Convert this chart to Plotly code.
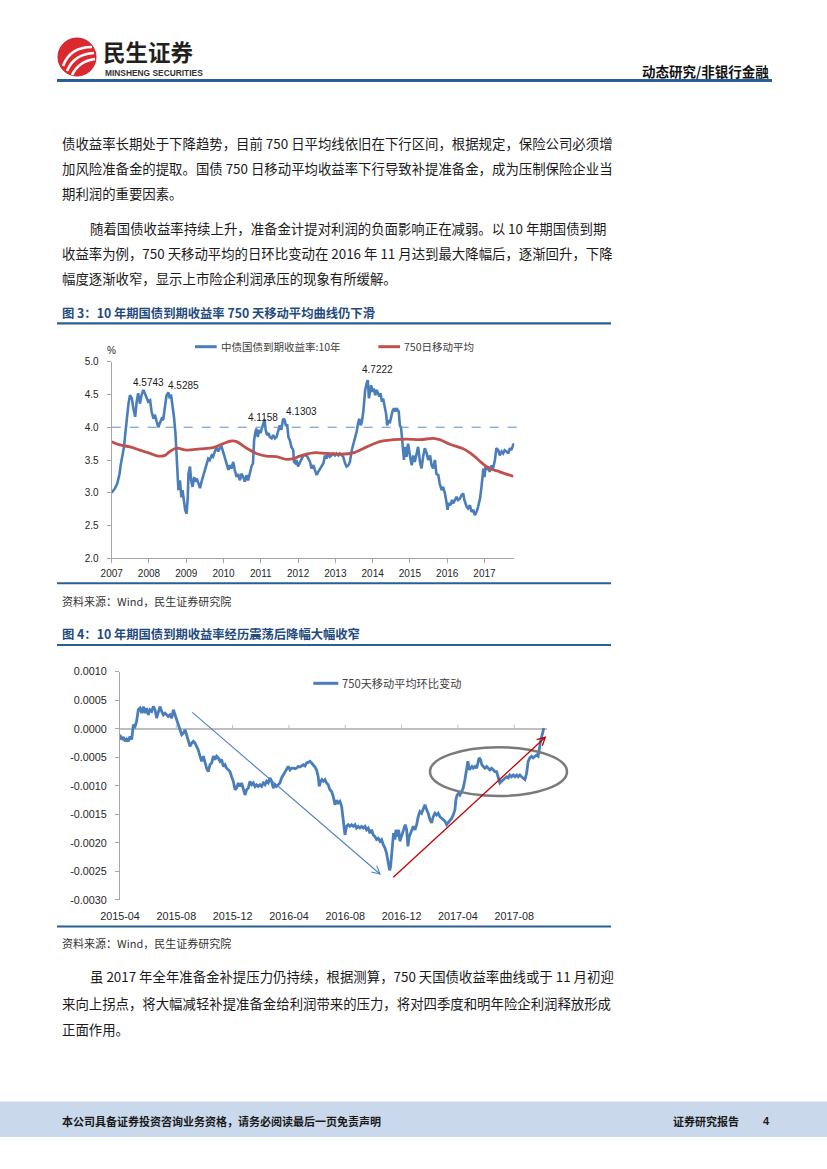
import math
import plotly.graph_objects as go

# ---------------- data: chart 3 (10Y CGB yield, %) ----------------
yield_year = [
    2007.00, 2007.09, 2007.15, 2007.21, 2007.24, 2007.29, 2007.33, 2007.37, 2007.40, 2007.45,
    2007.49, 2007.54, 2007.58, 2007.63, 2007.67, 2007.71, 2007.76, 2007.80, 2007.85, 2007.89,
    2007.94, 2007.98, 2008.03, 2008.07, 2008.12, 2008.16, 2008.21, 2008.25, 2008.29, 2008.34,
    2008.38, 2008.43, 2008.47, 2008.52, 2008.56, 2008.59, 2008.63, 2008.67, 2008.71, 2008.74,
    2008.77, 2008.79, 2008.83, 2008.87, 2008.90, 2008.94, 2008.97, 2009.01, 2009.04, 2009.06,
    2009.10, 2009.13, 2009.17, 2009.21, 2009.24, 2009.28, 2009.32, 2009.37, 2009.41, 2009.46,
    2009.50, 2009.54, 2009.59, 2009.63, 2009.68, 2009.72, 2009.77, 2009.81, 2009.86, 2009.90,
    2009.95, 2009.99, 2010.04, 2010.08, 2010.13, 2010.17, 2010.21, 2010.26, 2010.30, 2010.35,
    2010.39, 2010.44, 2010.48, 2010.53, 2010.57, 2010.62, 2010.66, 2010.71, 2010.75, 2010.79,
    2010.82, 2010.85, 2010.88, 2010.92, 2010.96, 2010.99, 2011.03, 2011.06, 2011.10, 2011.13,
    2011.17, 2011.21, 2011.24, 2011.29, 2011.33, 2011.38, 2011.42, 2011.46, 2011.51, 2011.55,
    2011.60, 2011.64, 2011.67, 2011.71, 2011.74, 2011.78, 2011.82, 2011.87, 2011.89, 2011.93,
    2011.96, 2012.00,
    2012.14, 2012.23, 2012.32, 2012.36, 2012.41, 2012.45, 2012.50, 2012.54, 2012.59, 2012.63,
    2012.68, 2012.72, 2012.76, 2012.81, 2012.85, 2012.90, 2012.94, 2012.99, 2013.03, 2013.08,
    2013.12, 2013.17, 2013.21, 2013.26, 2013.30, 2013.35, 2013.39, 2013.44, 2013.48, 2013.52,
    2013.57, 2013.61, 2013.64, 2013.68, 2013.71, 2013.75, 2013.77, 2013.80, 2013.84, 2013.87,
    2013.90, 2013.93, 2013.96, 2014.00, 2014.03, 2014.07, 2014.11, 2014.14, 2014.18, 2014.21,
    2014.25, 2014.28, 2014.32, 2014.36, 2014.39, 2014.43, 2014.46, 2014.50, 2014.53, 2014.57,
    2014.61, 2014.64, 2014.68, 2014.70, 2014.73, 2014.76, 2014.78, 2014.81, 2014.84, 2014.87,
    2014.91, 2014.95, 2014.98, 2015.02, 2015.05, 2015.09, 2015.13, 2015.18, 2015.22, 2015.27,
    2015.31, 2015.36, 2015.40, 2015.45, 2015.49, 2015.54, 2015.58, 2015.62, 2015.67, 2015.71,
    2015.76, 2015.80, 2015.85, 2015.89, 2015.94, 2015.98, 2016.01, 2016.04, 2016.09, 2016.13,
    2016.16, 2016.21, 2016.25, 2016.29, 2016.34, 2016.38, 2016.43, 2016.46, 2016.49, 2016.52,
    2016.56, 2016.61, 2016.65, 2016.70, 2016.74, 2016.79, 2016.83, 2016.88, 2016.92, 2016.95,
    2016.97, 2017.00, 2017.03, 2017.05, 2017.10, 2017.14, 2017.19, 2017.23, 2017.28, 2017.32,
    2017.37, 2017.41, 2017.46, 2017.50, 2017.54, 2017.59, 2017.64, 2017.68, 2017.72, 2017.77,
    2017.80,
]
yield_10y = [
    3.00, 3.07, 3.14, 3.29, 3.42, 3.57, 3.70, 3.93, 4.11, 4.36,
    4.49, 4.44, 4.29, 4.16, 4.39, 4.52, 4.36, 4.49, 4.57, 4.52,
    4.44, 4.39, 4.41, 4.24, 4.13, 4.19, 4.08, 4.00, 4.06, 4.13,
    4.11, 4.29, 4.48, 4.53, 4.44, 4.50, 4.36, 4.16, 3.91, 3.60,
    3.19, 3.04, 3.19, 2.93, 3.04, 2.88, 2.74, 2.68, 2.93, 3.29,
    3.40, 3.19, 3.09, 3.24, 3.17, 3.22, 3.14, 3.07, 3.17, 3.27,
    3.35, 3.45, 3.52, 3.50, 3.57, 3.55, 3.65, 3.70, 3.63, 3.68,
    3.70, 3.63, 3.55, 3.45, 3.35, 3.42, 3.37, 3.47, 3.35, 3.24,
    3.29, 3.19, 3.29, 3.24, 3.17, 3.27, 3.19, 3.32, 3.40, 3.45,
    3.80, 3.91, 3.98, 3.85, 3.96, 3.91, 3.98, 4.06, 4.12, 3.96,
    3.88, 3.91, 3.85, 3.83, 3.88, 3.83, 3.85, 3.93, 4.03, 3.96,
    4.13, 4.11, 4.03, 4.03, 3.85, 3.80, 3.70, 3.65, 3.47, 3.45,
    3.50, 3.40,
    3.57, 3.57, 3.47, 3.37, 3.42, 3.35, 3.27, 3.32, 3.37, 3.42,
    3.45, 3.57, 3.52, 3.60, 3.55, 3.57, 3.60, 3.57, 3.60, 3.57,
    3.60, 3.57, 3.55, 3.45, 3.40, 3.42, 3.47, 3.65, 3.73, 3.80,
    3.93, 4.06, 4.13, 4.03, 4.08, 4.24, 4.41, 4.57, 4.67, 4.72,
    4.44, 4.57, 4.64, 4.54, 4.59, 4.49, 4.57, 4.52, 4.47, 4.52,
    4.39, 4.44, 4.31, 4.21, 4.03, 4.11, 4.06, 4.19, 4.24, 4.29,
    4.24, 4.29, 4.26, 4.24, 4.03, 4.00, 3.88, 3.65, 3.50, 3.70,
    3.55, 3.75, 3.60, 3.50, 3.42, 3.57, 3.47, 3.60, 3.70, 3.47,
    3.37, 3.57, 3.68, 3.60, 3.50, 3.57, 3.42, 3.37, 3.50, 3.29,
    3.27, 3.14, 3.04, 3.09, 2.99, 2.86, 2.74, 2.84, 2.81, 2.89,
    2.84, 2.89, 2.94, 2.89, 2.91, 2.96, 2.99, 2.89, 2.84, 2.79,
    2.76, 2.81, 2.71, 2.74, 2.66, 2.71, 2.79, 2.91, 3.09, 3.29,
    3.37, 3.24, 3.42, 3.35, 3.40, 3.32, 3.42, 3.37, 3.50, 3.68,
    3.65, 3.57, 3.63, 3.60, 3.65, 3.63, 3.60, 3.68, 3.65, 3.73,
    3.75,
]
ma_year = [
    2007.00, 2007.22, 2007.49, 2007.76, 2008.03, 2008.25, 2008.43, 2008.56, 2008.74, 2009.01,
    2009.37, 2009.72, 2009.99, 2010.21, 2010.35, 2010.62, 2010.88, 2011.15, 2011.42, 2011.69,
    2011.87, 2012.04, 2012.41, 2012.76, 2013.12, 2013.48, 2013.84, 2014.19, 2014.55, 2014.91,
    2015.27, 2015.62, 2015.80, 2016.07, 2016.43, 2016.70, 2016.92, 2017.14, 2017.41, 2017.77,
]
ma_750 = [
    3.78, 3.73, 3.70, 3.65, 3.60, 3.56, 3.57, 3.63, 3.68, 3.65,
    3.67, 3.69, 3.75, 3.79, 3.78, 3.68, 3.60, 3.56, 3.55, 3.51,
    3.52, 3.56, 3.61, 3.60, 3.59, 3.61, 3.70, 3.78, 3.81, 3.82,
    3.81, 3.83, 3.81, 3.74, 3.67, 3.57, 3.46, 3.37, 3.32, 3.25,
]
year_ticks = [2007, 2008, 2009, 2010, 2011, 2012, 2013, 2014, 2015, 2016, 2017]
year_labels = ["2007", "2008", "2009", "2010", "2011", "2012", "2013", "2014", "2015", "2016", "2017"]
peak_labels = ["4.5743", "4.5285", "4.1158", "4.1303", "4.7222"]

# ---------------- data: chart 4 (750-day MA daily change) ----------------
# x: months elapsed since 2015-04
chg_month = [
    0.00, 0.12, 0.24, 0.36, 0.47, 0.59, 0.71, 0.83, 0.95, 1.07,
    1.18, 1.30, 1.42, 1.54, 1.66, 1.78, 1.89, 2.01, 2.13, 2.25,
    2.37, 2.49, 2.60, 2.72, 2.84, 2.96, 3.08, 3.20, 3.31, 3.43,
    3.55, 3.67, 3.79, 3.91, 4.02, 4.14, 4.26, 4.38, 4.50, 4.62,
    4.73, 4.85, 4.97, 5.09, 5.21, 5.33, 5.44, 5.56, 5.68, 5.80,
    5.92, 6.04, 6.15, 6.27, 6.39, 6.51, 6.63, 6.75, 6.86, 6.98,
    7.10, 7.22, 7.34, 7.46, 7.57, 7.69, 7.81, 7.93, 8.05, 8.17,
    8.28, 8.40, 8.52, 8.64, 8.76, 8.88, 8.99, 9.11, 9.23, 9.35,
    9.47, 9.59, 9.70, 9.82, 9.94, 10.06, 10.18, 10.30, 10.41, 10.53,
    10.65, 10.77, 10.89, 11.01, 11.12, 11.24, 11.36, 11.48, 11.60, 11.72,
    11.83, 11.95, 12.07, 12.19, 12.31, 12.43, 12.54, 12.66, 12.78, 12.90,
    13.02, 13.14, 13.25, 13.37, 13.49, 13.61, 13.73, 13.85, 13.96, 14.08,
    14.15, 14.25, 14.34, 14.44, 14.56, 14.67, 14.79, 14.91,
    15.03, 15.15, 15.27, 15.38, 15.50, 15.62, 15.74, 15.86, 15.98, 16.09,
    16.21, 16.33, 16.45, 16.57, 16.69, 16.80, 16.92, 17.04, 17.16, 17.28,
    17.40, 17.51, 17.63, 17.75, 17.87, 17.99, 18.11, 18.22, 18.34, 18.46,
    18.58, 18.70, 18.82, 18.93, 19.01, 19.08, 19.15, 19.22, 19.29, 19.36,
    19.43, 19.53, 19.60, 19.69, 19.79, 19.88, 19.98, 20.07, 20.17, 20.26,
    20.36, 20.45, 20.54, 20.64, 20.73, 20.83, 20.95, 21.07, 21.18, 21.30,
    21.42, 21.54, 21.66, 21.78, 21.89, 22.01, 22.13, 22.25, 22.37, 22.49,
    22.60, 22.72, 22.84, 22.96, 23.08, 23.20, 23.31, 23.43, 23.55, 23.67,
    23.79, 23.86, 23.95, 24.05, 24.14, 24.26, 24.38, 24.50, 24.62, 24.71,
    24.81, 24.90, 25.00, 25.09, 25.21, 25.33, 25.44, 25.51, 25.61, 25.70,
    25.80, 25.92, 26.04, 26.15, 26.27, 26.39, 26.51, 26.63, 26.75, 26.86,
    26.98, 27.10, 27.22, 27.34, 27.46, 27.57, 27.69, 27.81, 27.93, 28.05,
    28.17, 28.28, 28.40, 28.52, 28.64, 28.76, 28.88, 28.99, 29.11, 29.23,
    29.35, 29.47, 29.59, 29.70, 29.77, 29.87, 29.96, 30.05, 30.10,
]
chg_750 = [
    -0.000105, -0.00019, -0.000146, -0.00022, -0.00018, -0.00022, -0.000134, -0.00019, 0.00007, 0.00004,
    0.000128, 0.000333, 0.000362, 0.000274, 0.00039, 0.000274, 0.000362, 0.000245, 0.000333, 0.000304,
    0.00039, 0.000333, 0.000187, 0.000304, 0.00039, 0.000304, 0.000245, 0.000274, 0.000245, 0.000216,
    0.000245, 0.000187, 0.000333, 0.000245, 0.000158, 0.00007, -0.000047, -0.000105, -0.000076, -0.0000175,
    -0.000105, -0.00019, -0.00031, -0.00025, -0.00022, -0.00025, -0.00031, -0.00037, -0.00048, -0.00057,
    -0.00048, -0.0006, -0.00069, -0.00075, -0.00063, -0.0006, -0.00048, -0.00054, -0.00048, -0.00051,
    -0.00057, -0.00054, -0.00066, -0.00063, -0.00069, -0.00072, -0.00075, -0.00084, -0.00092, -0.00107,
    -0.00104, -0.00095, -0.00101, -0.00095, -0.00104, -0.00116, -0.00107, -0.00104, -0.00092, -0.00098,
    -0.00095, -0.00101, -0.00098, -0.00101, -0.00098, -0.00101, -0.00095, -0.00098, -0.00092, -0.00095,
    -0.00086, -0.00092, -0.00104, -0.00098, -0.00101, -0.00098, -0.00095, -0.00086, -0.00081, -0.00075,
    -0.00069, -0.00066, -0.00072, -0.00069, -0.00069, -0.0007, -0.00069, -0.00066, -0.00067, -0.00065,
    -0.00063, -0.00065, -0.0006, -0.00059, -0.00057, -0.0006, -0.00063, -0.00067, -0.00072, -0.00084,
    -0.00101, -0.00092, -0.00089, -0.00092, -0.00089, -0.00095, -0.00098, -0.00107,
    -0.0011, -0.00119, -0.00133, -0.00125, -0.0013, -0.00127, -0.00136, -0.00165, -0.00186, -0.00171,
    -0.00168, -0.00171, -0.00168, -0.00171, -0.00168, -0.00174, -0.00171, -0.00174, -0.00171, -0.00174,
    -0.00171, -0.00177, -0.00174, -0.00183, -0.00177, -0.00186, -0.00189, -0.00194, -0.00192, -0.00197,
    -0.00194, -0.00203, -0.00209, -0.00218, -0.0023, -0.00244, -0.00248, -0.00241, -0.00224, -0.00206,
    -0.00183, -0.00194, -0.00177, -0.00189, -0.00177, -0.00197, -0.00189, -0.00183, -0.00171, -0.00168,
    -0.00177, -0.00206, -0.00189, -0.00183, -0.00177, -0.00171, -0.00177, -0.00168, -0.00154, -0.00145,
    -0.00148, -0.00139, -0.00133, -0.00142, -0.00148, -0.00159, -0.00165, -0.00154, -0.00148, -0.00151,
    -0.00148, -0.00154, -0.00157, -0.00159, -0.00162, -0.00168, -0.00165, -0.00162, -0.00157, -0.00151,
    -0.00142, -0.00124, -0.00116, -0.00113, -0.00116, -0.0011, -0.00104, -0.00089, -0.00066, -0.00057,
    -0.00072, -0.00069, -0.00066, -0.00069, -0.00066, -0.00069, -0.0006, -0.00051, -0.00054, -0.00063,
    -0.00066, -0.00069, -0.00066, -0.00069, -0.00072, -0.00069, -0.00072, -0.00075, -0.00075, -0.00086,
    -0.00095, -0.00092, -0.00089, -0.00086, -0.00084, -0.00086, -0.00081, -0.00084, -0.00081, -0.00084,
    -0.00081, -0.00084, -0.00081, -0.00084, -0.00086, -0.00089, -0.00078, -0.00057, -0.00051, -0.00048,
    -0.00051, -0.00048, -0.00046, -0.00048, -0.00034, -0.00022, -0.00013, -0.000047, 0.0000117,
]
month_ticks = [0, 4, 8, 12, 16, 20, 24, 28]
month_labels = ["2015-04", "2015-08", "2015-12", "2016-04", "2016-08", "2016-12", "2017-04", "2017-08"]
chg_ticks = [0.001, 0.0005, 0.0, -0.0005, -0.001, -0.0015, -0.002, -0.0025, -0.003]
chg_labels = ["0.0010", "0.0005", "0.0000", "-0.0005", "-0.0010", "-0.0015", "-0.0020", "-0.0025", "-0.0030"]

# ---------------- texts ----------------
para1 = [
    "债收益率长期处于下降趋势，目前 750 日平均线依旧在下行区间，根据规定，保险公司必须增",
    "加风险准备金的提取。国债 750 日移动平均收益率下行导致补提准备金，成为压制保险企业当",
    "期利润的重要因素。",
]
para2 = [
    "随着国债收益率持续上升，准备金计提对利润的负面影响正在减弱。以 10 年期国债到期",
    "收益率为例，750 天移动平均的日环比变动在 2016 年 11 月达到最大降幅后，逐渐回升，下降",
    "幅度逐渐收窄，显示上市险企利润承压的现象有所缓解。",
]
para3 = [
    "虽 2017 年全年准备金补提压力仍持续，根据测算，750 天国债收益率曲线或于 11 月初迎",
    "来向上拐点，将大幅减轻补提准备金给利润带来的压力，将对四季度和明年险企利润释放形成",
    "正面作用。",
]
title3 = "图 3：10 年期国债到期收益率 750 天移动平均曲线仍下滑"
title4 = "图 4：10 年期国债到期收益率经历震荡后降幅大幅收窄"
source_txt = "资料来源：Wind，民生证券研究院"
legend3 = ["中债国债到期收益率:10年", "750日移动平均"]
legend4 = "750天移动平均环比变动"

# ---------------- page helpers ----------------
W, H = 827, 1169
def X(px):
    return px / W
def Y(py):
    return 1 - py / H

CJK = "Noto Sans CJK SC"
NUM = "Liberation Sans"
BLUE = "#4A7EBB"
RED = "#C0504D"
RULE = "#2A5F96"
TITLE = "#1F4A7D"
AXIS = "#A6A6A6"

shapes = []
annotations = []

def text(px, py, s, size=13.6, color="#1a1a1a", anchor="left", family=CJK, bold=False):
    annotations.append(dict(
        x=X(px), y=Y(py), xref="paper", yref="paper", showarrow=False,
        text=("<b>%s</b>" % s) if bold else s, xanchor=anchor, yanchor="middle",
        font=dict(family=family, size=size, color=color)))

def hline(px0, px1, py, color, width):
    shapes.append(dict(type="line", xref="paper", yref="paper",
                       x0=X(px0), x1=X(px1), y0=Y(py), y1=Y(py),
                       line=dict(color=color, width=width)))

def arrow(x0, y0, x1, y1, color, width, head=9):
    shapes.append(dict(type="line", xref="paper", yref="paper",
                       x0=X(x0), y0=Y(y0), x1=X(x1), y1=Y(y1),
                       line=dict(color=color, width=width)))
    ang = math.atan2(y1 - y0, x1 - x0)
    pts = []
    for d in (math.radians(152), -math.radians(152)):
        pts.append((x1 + head * math.cos(ang + d), y1 + head * math.sin(ang + d)))
    path = "M %f %f L %f %f L %f %f" % (X(pts[0][0]), Y(pts[0][1]), X(x1), Y(y1),
                                        X(pts[1][0]), Y(pts[1][1]))
    shapes.append(dict(type="path", xref="paper", yref="paper", path=path,
                       line=dict(color=color, width=width)))

# ---------------- header ----------------
shapes.append(dict(type="circle", xref="paper", yref="paper",
                   x0=X(58), x1=X(96), y0=Y(76), y1=Y(38),
                   fillcolor="#DA2A2F", line=dict(color="#C81E25", width=1)))
for (a, b, c, d, e, f) in [(63, 66, 70, 47, 92, 47), (67, 71, 74, 54, 94, 53), (72, 75, 79, 61, 95, 59)]:
    shapes.append(dict(type="path", xref="paper", yref="paper",
                       path="M %f %f Q %f %f %f %f" % (X(a), Y(b), X(c), Y(d), X(e), Y(f)),
                       line=dict(color="white", width=2.6)))
text(101, 51.5, "民生证券", size=22.5, color="#231F20", bold=True)
text(103, 72.5, "MINSHENG SECURITIES", size=8.4, color="#333333", family=NUM, bold=True)
text(771, 71, "动态研究/非银行金融", size=13.5, color="#111111", anchor="right", bold=True)
hline(57, 772, 80.5, RULE, 3)

# ---------------- paragraphs ----------------
for i, s in enumerate(para1):
    text(60, 143.3 + 25 * i, s, size=13.4)
for i, s in enumerate(para2):
    text(88 if i == 0 else 60, 228.3 + 24.6 * i, s, size=13.4)

# ---------------- chart 3 frame ----------------
text(60, 313.3, title3, size=12.3, color=TITLE, bold=True)
hline(57, 611, 323.3, RULE, 2.2)
hline(57, 611, 583.3, RULE, 2.0)
text(60, 600.5, source_txt, size=11, color="#333333")
text(105, 350.5, "%", size=10, color="#262626", family=NUM)
# legend
hline(195, 216.7, 346.7, BLUE, 3)
text(218.5, 346.7, legend3[0], size=10.5, color="#404040")
hline(378.3, 400, 346.7, RED, 3)
text(401.7, 346.7, legend3[1], size=10.5, color="#404040")
# dashed 4.0 reference line
shapes.append(dict(type="line", xref="paper", yref="y", x0=X(111.7), x1=X(523), y0=4.0, y1=4.0,
                   line=dict(color="#5B8DC9", width=1, dash="dash")))
# peak labels
peak_pos = [(2008.0, 4.69), (2008.93, 4.63), (2011.05, 4.15), (2012.09, 4.24), (2014.12, 4.88)]
for lbl, (px_, py_) in zip(peak_labels, peak_pos):
    annotations.append(dict(x=px_, y=py_, xref="x", yref="y", text=lbl, showarrow=False,
                            font=dict(family=NUM, size=10, color="#1a1a1a")))

# ---------------- chart 4 frame ----------------
text(60, 634.3, title4, size=12.3, color=TITLE, bold=True)
hline(57, 611, 645, RULE, 2.2)
hline(57, 611, 926.5, RULE, 2.0)
text(60, 942.7, source_txt, size=11, color="#333333")
hline(313.3, 338.3, 683.3, BLUE, 3)
text(340, 683.3, legend4, size=11.2, color="#404040")
shapes.append(dict(type="circle", xref="paper", yref="paper",
                   x0=X(430), x1=X(567), y0=Y(796), y1=Y(747.3),
                   line=dict(color="#7A7A7A", width=2.5)))
arrow(192.3, 712.3, 380, 874, "#4F7FC0", 1.1)
arrow(393.3, 877.3, 545.3, 737.3, "#C00000", 1.3)

# ---------------- chart 4 axis geometry ----------------
y2_dom = [Y(900), Y(671.7)]
y2_rng = [-0.003, 0.001]
x2_dom = [X(120), X(546.6)]
x2_rng = [0, 30.3]
zero_paper = y2_dom[0] + (0 - y2_rng[0]) / (y2_rng[1] - y2_rng[0]) * (y2_dom[1] - y2_dom[0])
for t in month_ticks[1:]:
    xp = x2_dom[0] + (t - x2_rng[0]) / (x2_rng[1] - x2_rng[0]) * (x2_dom[1] - x2_dom[0])
    shapes.append(dict(type="line", xref="paper", yref="paper", x0=xp, x1=xp,
                       y0=zero_paper, y1=zero_paper + 4 / H, line=dict(color="#BFBFBF", width=1)))

# ---------------- closing paragraph + footer ----------------
for i, s in enumerate(para3):
    text(88 if i == 0 else 60, 976 + 26.5 * i, s, size=13.4)
shapes.append(dict(type="rect", xref="paper", yref="paper", x0=0, x1=1, y0=Y(1137), y1=Y(1101.5),
                   fillcolor="#C9D8EA", line=dict(width=0), layer="below"))
text(60, 1121, "本公司具备证券投资咨询业务资格，请务必阅读最后一页免责声明", size=11, color="#1a1a1a", bold=True)
text(671, 1121, "证券研究报告", size=11, color="#1a1a1a", bold=True)
text(766, 1121, "4", size=11, color="#1a1a1a", family=NUM, bold=True, anchor="center")

# ---------------- figure ----------------
fig = go.Figure()
fig.add_trace(go.Scatter(x=yield_year, y=yield_10y, mode="lines", name=legend3[0],
                         line=dict(color=BLUE, width=2.6), xaxis="x", yaxis="y", showlegend=False))
fig.add_trace(go.Scatter(x=ma_year, y=ma_750, mode="lines", name=legend3[1],
                         line=dict(color=RED, width=2.8, shape="spline"), xaxis="x", yaxis="y", showlegend=False))
fig.add_trace(go.Scatter(x=chg_month, y=chg_750, mode="lines", name=legend4,
                         line=dict(color=BLUE, width=2.8), xaxis="x2", yaxis="y2", showlegend=False))

tickfont = dict(family=NUM, size=10, color="#262626")
tickfont2 = dict(family=NUM, size=10.8, color="#262626")
fig.update_layout(
    template="none",
    width=W, height=H, margin=dict(l=0, r=0, t=0, b=0, autoexpand=False), autosize=False,
    paper_bgcolor="white", plot_bgcolor="rgba(0,0,0,0)", showlegend=False,
    font=dict(family=CJK),
    xaxis=dict(domain=[X(111.7), X(514.3)], range=[2007, 2017.8], anchor="y", automargin=False,
               tickvals=year_ticks, ticktext=year_labels, ticks="outside", ticklen=4,
               tickcolor=AXIS, showline=True, linecolor=AXIS, linewidth=1,
               showgrid=False, zeroline=False, tickfont=tickfont, ticklabelstandoff=2),
    yaxis=dict(domain=[Y(558.3), Y(361.7)], range=[2, 5.0001], anchor="x", automargin=False,
               dtick=0.5, tickformat=".1f", ticks="outside", ticklen=4, tickcolor=AXIS,
               showline=True, linecolor=AXIS, linewidth=1, showgrid=False, zeroline=False,
               tickfont=tickfont, ticklabelstandoff=6),
    xaxis2=dict(domain=x2_dom, range=x2_rng, anchor="y2", automargin=False,
                tickvals=month_ticks, ticktext=month_labels, ticks="",
                showline=False, showgrid=False, zeroline=False, tickfont=tickfont2,
                ticklabelstandoff=8),
    yaxis2=dict(domain=y2_dom, range=[-0.0030001, 0.0010001], anchor="x2", automargin=False,
                tickvals=chg_ticks, ticktext=chg_labels, ticks="outside", ticklen=4,
                tickcolor=AXIS, showline=True, linecolor=AXIS, linewidth=1,
                showgrid=False, zeroline=True, zerolinecolor="#BFBFBF", zerolinewidth=1.6,
                tickfont=tickfont2, ticklabelstandoff=6),
    shapes=shapes, annotations=annotations,
)
fig.write_html("out.html", config={"responsive": False, "displayModeBar": False})

# remove the default page margin so the 827x1169 figure fills the window exactly
with open("out.html", "r", encoding="utf-8") as fh:
    page = fh.read()
page = page.replace("<head>", "<head><style>html,body{margin:0;padding:0;overflow:hidden;}</style>", 1)
with open("out.html", "w", encoding="utf-8") as fh:
    fh.write(page)
